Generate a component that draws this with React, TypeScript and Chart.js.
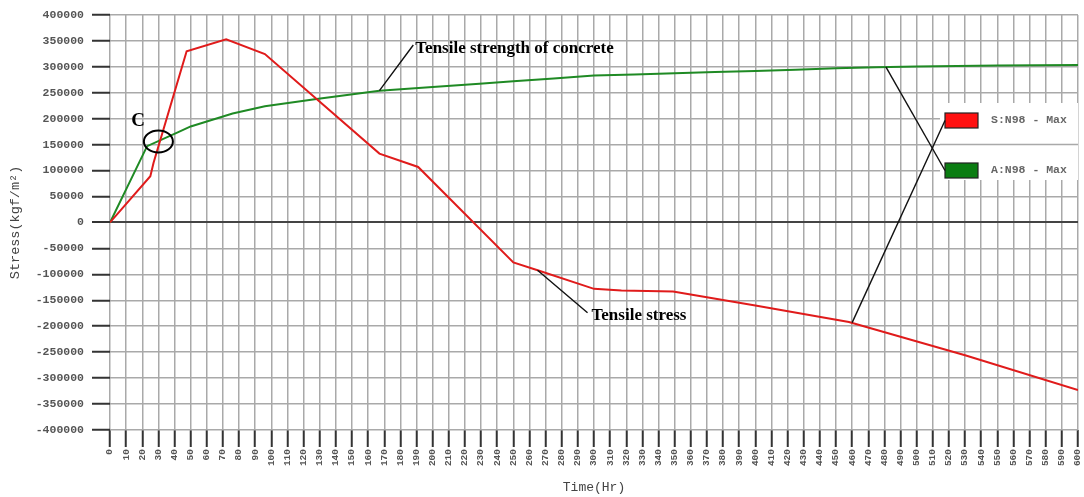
import { useEffect, useRef } from "react";
import { Chart, registerables } from "chart.js";

Chart.register(...registerables);

// ---- Data ----
const xTicks = [
  0, 10, 20, 30, 40, 50, 60, 70, 80, 90, 100, 110, 120, 130, 140, 150, 160, 170, 180, 190, 200,
  210, 220, 230, 240, 250, 260, 270, 280, 290, 300, 310, 320, 330, 340, 350, 360, 370, 380, 390, 400,
  410, 420, 430, 440, 450, 460, 470, 480, 490, 500, 510, 520, 530, 540, 550, 560, 570, 580, 590, 600,
];
const yTicks = [
  -400000, -350000, -300000, -250000, -200000, -150000, -100000, -50000, 0,
  50000, 100000, 150000, 200000, 250000, 300000, 350000, 400000,
];

const stressLabel = "S:N98 - Max";
const stressTimes = [0, 25, 27, 47.5, 72, 96, 167, 191, 250, 266, 300, 317, 349, 400, 458, 530, 600];
const stressValues = [
  0, 89000, 115000, 330000, 353000, 324500, 132700, 107000, -77000, -93000, -128000, -131000,
  -133000, -160000, -192000, -256000, -323000,
];

const strengthLabel = "A:N98 - Max";
const strengthTimes = [
  0, 23, 43, 50, 76, 96, 128, 167, 200, 229, 250, 275, 300, 325, 350, 375, 400, 425, 450, 475, 500, 550, 600,
];
const strengthValues = [
  0, 147000, 175000, 185000, 210000, 224000, 238000, 254000, 261000, 267500, 272000, 277500, 283000,
  285000, 287500, 290000, 292000, 294500, 297000, 299000, 300500, 302500, 303500,
];

// annotation anchors (data units)
const circleC = [30, 156000];
const labelC = [17.5, 195000];
const strengthNoteFrom = [167, 254000];
const strengthNoteTo = [188, 342000];
const strengthNoteText = "Tensile strength of concrete";
const stressNoteFrom = [265, -92000];
const stressNoteTo = [296, -174000];
const stressNoteText = "Tensile stress";
const legendLeaderStress = [460, -193000];
const legendLeaderStrength = [481, 299500];

const RED = "#e01b1b";
const GREEN = "#1f8a24";
const GRID = "#a9a9a9";

const toPoints = (xs: number[], ys: number[]) => xs.map((x, i) => ({ x, y: ys[i] }));

const annotPlugin = {
  id: "annot",
  afterDatasetsDraw(chart: any) {
    const { ctx, chartArea, scales } = chart;
    const xs = scales.x;
    const ys = scales.y;
    const px = (t: number) => xs.getPixelForValue(t);
    const py = (v: number) => ys.getPixelForValue(v);
    ctx.save();

    // legend box
    const boxL = chartArea.right - 138;
    const boxT = 103;
    const boxB = 180;
    ctx.fillStyle = "#ffffff";
    ctx.fillRect(boxL, boxT, chartArea.right - boxL, boxB - boxT);
    ctx.strokeStyle = GRID;
    ctx.lineWidth = 1.5;
    ctx.beginPath();
    ctx.moveTo(boxL, py(150000));
    ctx.lineTo(chartArea.right, py(150000));
    ctx.stroke();

    const swX = boxL + 5;
    const items = [
      { label: chart.data.datasets[0].label, fill: "#ff1010", cy: 120.5, from: legendLeaderStress },
      { label: chart.data.datasets[1].label, fill: "#0b7d12", cy: 170.5, from: legendLeaderStrength },
    ];
    items.forEach((it) => {
      ctx.fillStyle = it.fill;
      ctx.fillRect(swX, it.cy - 7.5, 33, 15);
      ctx.strokeStyle = "#222";
      ctx.lineWidth = 1.2;
      ctx.strokeRect(swX, it.cy - 7.5, 33, 15);
      ctx.fillStyle = "#666";
      ctx.font = "bold 11.5px 'Liberation Mono', monospace";
      ctx.textAlign = "left";
      ctx.textBaseline = "middle";
      ctx.fillText(it.label, swX + 46, it.cy);
    });
    ctx.strokeStyle = "#111";
    ctx.lineWidth = 1.4;
    items.forEach((it) => {
      ctx.beginPath();
      ctx.moveTo(px(it.from[0]), py(it.from[1]));
      ctx.lineTo(swX, it.cy);
      ctx.stroke();
    });

    // ellipse C
    ctx.strokeStyle = "#000";
    ctx.lineWidth = 2;
    ctx.beginPath();
    ctx.ellipse(px(circleC[0]), py(circleC[1]), 14.5, 11, 0, 0, Math.PI * 2);
    ctx.stroke();

    ctx.fillStyle = "#000";
    ctx.font = "bold 19px 'Liberation Serif', serif";
    ctx.textAlign = "center";
    ctx.textBaseline = "middle";
    ctx.fillText("C", px(labelC[0]), py(labelC[1]));

    ctx.lineWidth = 1.4;
    ctx.strokeStyle = "#111";
    ctx.beginPath();
    ctx.moveTo(px(strengthNoteFrom[0]), py(strengthNoteFrom[1]));
    ctx.lineTo(px(strengthNoteTo[0]), py(strengthNoteTo[1]));
    ctx.moveTo(px(stressNoteFrom[0]), py(stressNoteFrom[1]));
    ctx.lineTo(px(stressNoteTo[0]), py(stressNoteTo[1]));
    ctx.stroke();

    ctx.font = "bold 17px 'Liberation Serif', serif";
    ctx.textAlign = "left";
    ctx.textBaseline = "middle";
    ctx.fillText(strengthNoteText, px(strengthNoteTo[0]) + 2, py(strengthNoteTo[1]) + 4);
    ctx.fillText(stressNoteText, px(stressNoteTo[0]) + 4, py(stressNoteTo[1]) + 3);

    ctx.restore();
  },
};

export default function App() {
  const ref = useRef<HTMLCanvasElement>(null);
  useEffect(() => {
    document.body.style.margin = "0";
    const chart = new Chart(ref.current as HTMLCanvasElement, {
      type: "line",
      data: {
        datasets: [
          {
            label: stressLabel,
            data: toPoints(stressTimes, stressValues),
            borderColor: RED,
            backgroundColor: RED,
            borderWidth: 2,
            pointRadius: 0,
            tension: 0,
          },
          {
            label: strengthLabel,
            data: toPoints(strengthTimes, strengthValues),
            borderColor: GREEN,
            backgroundColor: GREEN,
            borderWidth: 2,
            pointRadius: 0,
            tension: 0,
          },
        ],
      },
      options: {
        animation: false,
        responsive: false,
        devicePixelRatio: 1,
        layout: { padding: { top: 13, right: 6, left: 0, bottom: 0 } },
        plugins: { legend: { display: false }, tooltip: { enabled: false } },
        scales: {
          x: {
            type: "linear",
            min: 0,
            max: 600,
            afterBuildTicks: (s: any) => {
              s.ticks = xTicks.map((v) => ({ value: v }));
            },
            afterFit: (s: any) => {
              s.height = 67;
              s.paddingRight = 0;
              s.paddingLeft = 0;
            },
            ticks: {
              autoSkip: false,
              maxRotation: 90,
              minRotation: 90,
              padding: 2,
              color: "#555",
              font: { family: "'Liberation Mono', monospace", size: 9.5, weight: "bold" },
              callback: (v: any) => String(v),
            },
            grid: {
              color: GRID,
              lineWidth: 1.5,
              tickLength: 17,
              tickColor: "#333",
              tickWidth: 2,
            },
            border: { display: false },
            title: {
              display: true,
              text: "Time(Hr)",
              color: "#444",
              font: { family: "'Liberation Mono', monospace", size: 13 },
              padding: { top: 0, bottom: 2 },
            },
          },
          y: {
            type: "linear",
            min: -400000,
            max: 400000,
            afterBuildTicks: (s: any) => {
              s.ticks = yTicks.map((v) => ({ value: v }));
            },
            afterFit: (s: any) => {
              s.width = 110;
            },
            ticks: {
              autoSkip: false,
              padding: 8,
              color: "#555",
              font: { family: "'Liberation Mono', monospace", size: 11.5, weight: "bold" },
              callback: (v: any) => String(v),
            },
            grid: {
              color: (c: any) => (c.tick && c.tick.value === 0 ? "#444" : GRID),
              lineWidth: (c: any) => (c.tick && c.tick.value === 0 ? 2 : 1.5),
              tickLength: 18,
              tickColor: "#333",
              tickWidth: 2,
            },
            border: { display: false },
            title: {
              display: true,
              text: "Stress(kgf/m²)",
              color: "#444",
              font: { family: "'Liberation Mono', monospace", size: 13.5 },
              padding: { top: 7, bottom: 0 },
            },
          },
        },
      } as any,
      plugins: [annotPlugin],
    });
    return () => chart.destroy();
  }, []);
  return (
    <div style={{ width: 1084, height: 497 }}>
      <canvas ref={ref} width={1084} height={497} style={{ display: "block" }} />
    </div>
  );
}
